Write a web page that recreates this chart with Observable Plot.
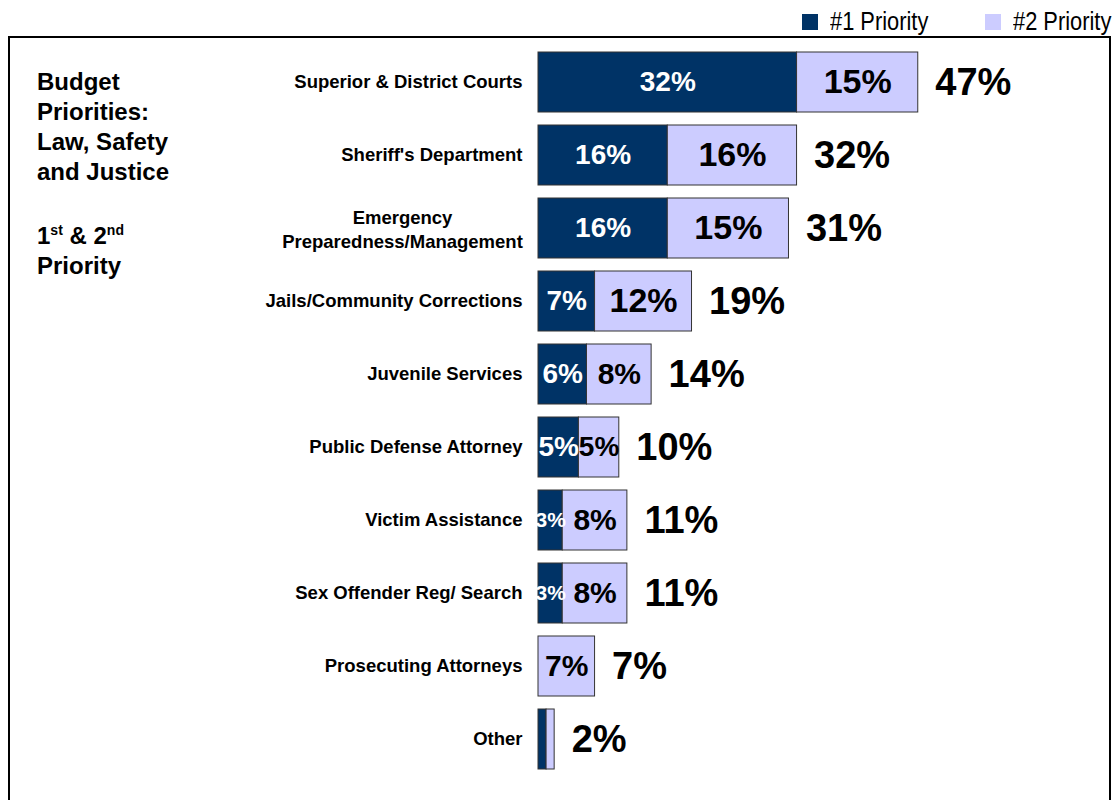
<!DOCTYPE html>
<html>
<head>
<meta charset="utf-8">
<script src="https://cdn.jsdelivr.net/npm/d3@7"></script>
<script src="https://cdn.jsdelivr.net/npm/@observablehq/plot@0.6"></script>
<style>
  html, body { margin: 0; padding: 0; background: #fff; width: 1112px; height: 800px; overflow: hidden; }
  #legend { position: absolute; top: 0; left: 0; width: 1112px; height: 37px;
    font-family: "Liberation Sans", Arial, sans-serif; font-size: 26px; color: #000; }
  .lg { position: absolute; top: 6px; display: flex; align-items: center; white-space: nowrap; }
  .sw { width: 16px; height: 16px; margin-right: 12px; display: inline-block; }
  .lt { display: inline-block; transform: scaleX(0.84); transform-origin: left center; }
  #box { position: absolute; left: 8px; top: 36px; width: 1099px; height: 800px; border: 2px solid #000; }
  #title { position: absolute; left: 37px; top: 67px; font-family: "Liberation Sans", Arial, sans-serif;
    font-weight: bold; font-size: 24px; line-height: 30px; color: #000; }
  #title .gap { height: 34px; }
  #title sup { font-size: 14px; line-height: 0; vertical-align: 9px; }
  #chart { position: absolute; left: 0; top: 37px; }
</style>
</head>
<body>
<div id="legend"></div>
<div id="box"></div>
<div id="title">Budget<br>Priorities:<br>Law, Safety<br>and Justice<div class="gap"></div>1<sup>st</sup> &amp; 2<sup>nd</sup><br>Priority</div>
<div id="chart"></div>
<script>
const categories = [
  "Superior & District Courts",
  "Sheriff's Department",
  "Emergency\nPreparedness/Management",
  "Jails/Community Corrections",
  "Juvenile Services",
  "Public Defense Attorney",
  "Victim Assistance",
  "Sex Offender Reg/ Search",
  "Prosecuting Attorneys",
  "Other"
];
const seriesNames = ["#1 Priority", "#2 Priority"];
const priority1 = [32, 16, 16, 7, 6, 5, 3, 3, 0, 1];
const priority2 = [15, 16, 15, 12, 8, 5, 8, 8, 7, 1];
const totals = [47, 32, 31, 19, 14, 10, 11, 11, 7, 2];
const labels1 = ["32%", "16%", "16%", "7%", "6%", "5%", "3%", "3%", "", ""];
const labels2 = ["15%", "16%", "15%", "12%", "8%", "5%", "8%", "8%", "7%", ""];
const totalLabels = ["47%", "32%", "31%", "19%", "14%", "10%", "11%", "11%", "7%", "2%"];

const colors = ["#003366", "#ccccff"];

// legend
const legend = document.getElementById("legend");
const lgPos = [802, 985];
seriesNames.forEach((s, i) => {
  const d = document.createElement("div");
  d.className = "lg";
  d.style.left = lgPos[i] + "px";
  d.innerHTML = `<span class="sw" style="background:${colors[i]}"></span><span class="lt">${s}</span>`;
  legend.appendChild(d);
});

const rows = [];
categories.forEach((c, i) => {
  rows.push({cat: c, series: seriesNames[0], value: priority1[i], label: labels1[i]});
  rows.push({cat: c, series: seriesNames[1], value: priority2[i], label: labels2[i]});
});
const barRows = rows.filter(d => d.value > 0);
const totalRows = categories.map((c, i) => ({cat: c, total: totals[i], label: totalLabels[i]}));
const singleLine = categories.filter(c => !c.includes("\n"));
const multiLine = categories.filter(c => c.includes("\n"));

const font = "'Liberation Sans', Arial, sans-serif";

const chart = Plot.plot({
  width: 1112,
  height: 760,
  marginLeft: 538,
  marginRight: 170,
  marginTop: 1,
  marginBottom: 14,
  style: {fontFamily: font, background: "transparent"},
  x: {domain: [0, 50], axis: null},
  y: {domain: categories, padding: 0.18, axis: null},
  color: {domain: seriesNames, range: colors},
  marks: [
    Plot.barX(barRows, Plot.stackX({x: "value", y: "cat", fill: "series", order: seriesNames, stroke: "#333", strokeWidth: 1})),
    Plot.text(rows, Plot.stackX({
      x: "value", y: "cat", z: "series", order: seriesNames,
      text: d => d.series === seriesNames[0] ? d.label : "",
      fontSize: d => d.value >= 5 ? 28 : 21,
      fill: "white", fontWeight: "bold"
    })),
    Plot.text(rows, Plot.stackX({
      x: "value", y: "cat", z: "series", order: seriesNames,
      text: d => d.series === seriesNames[1] ? d.label : "",
      fontSize: d => d.value >= 10 ? 34 : (d.value >= 6 ? 30 : 28),
      fill: "black", fontWeight: "bold"
    })),
    Plot.text(totalRows, {x: "total", y: "cat", text: "label", textAnchor: "start", dx: 17,
      fontSize: 38, fontWeight: "bold", fill: "black"}),
    Plot.text(singleLine, {x: 0, y: d => d, text: d => d, textAnchor: "end", dx: -16,
      fontSize: 18.5, fontWeight: "bold", fill: "black"}),
    Plot.text(multiLine, {x: 0, y: d => d, text: d => d, textAnchor: "middle", dx: -136,
      fontSize: 18.5, fontWeight: "bold", fill: "black", lineHeight: 1.3})
  ]
});
document.getElementById("chart").appendChild(chart);
</script>
</body>
</html>
